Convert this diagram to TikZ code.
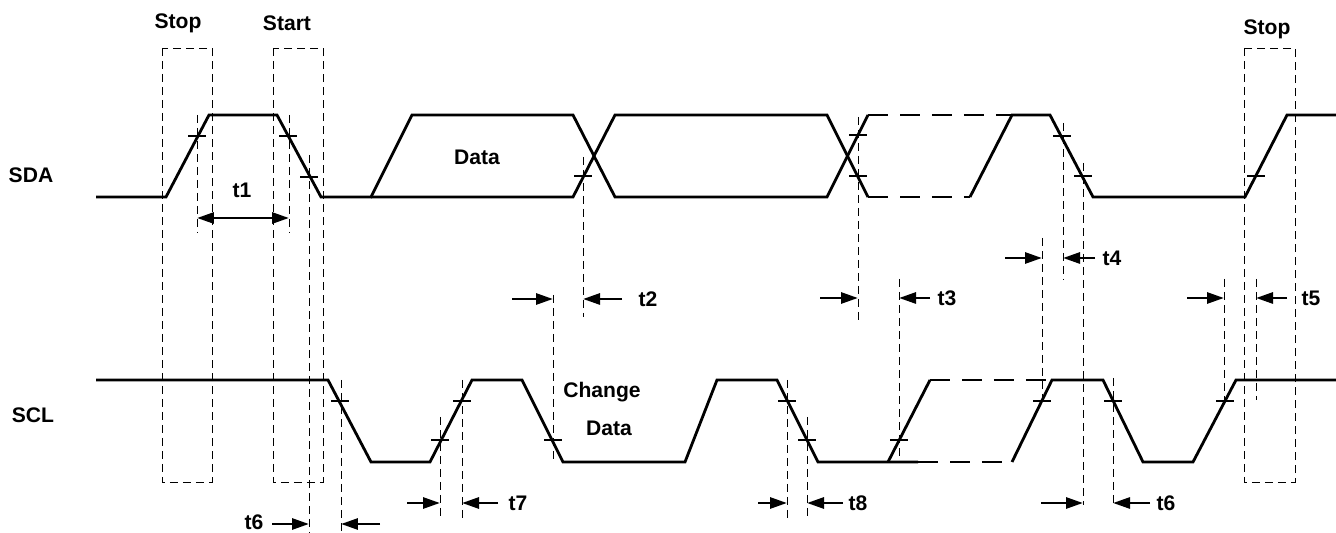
\documentclass[tikz,border=0pt]{standalone}
\usepackage{fontspec}
\setmainfont{Liberation Sans}
\usetikzlibrary{arrows.meta}
\begin{document}
\begin{tikzpicture}[x=0.02cm,y=-0.02cm,
  wave/.style={line width=1.6pt,line join=miter},
  wavedash/.style={wave,dash pattern=on 0.4cm off 0.24cm},
  guide/.style={line width=0.5pt,dash pattern=on 0.16cm off 0.1cm},
  tarrow/.style={line width=1.6pt,-{Triangle[length=0.34cm,width=0.22cm]}},
  lbl/.style={font=\fontsize{12}{14}\selectfont\bfseries,inner sep=0pt}]
\useasboundingbox (0,0) rectangle (1336,533);

\node[lbl] (stopL) at (178,23) {Stop};
\node[lbl] (start) at (287,23) {Start};
\node[lbl] (stopR) at (1267,29) {Stop};
\node[lbl] (sda) at (31,175) {SDA};
\node[lbl] (scl) at (33,415) {SCL};
\node[lbl] (data) at (477,157) {Data};
\node[lbl] (change) at (602,392) {Change};
\node[lbl] (cdata) at (609,428) {Data};

\draw[guide] (162,48) rectangle (212,482);
\draw[guide] (273,48) rectangle (323,482);
\draw[guide] (1244,48) rectangle (1295,482);
\foreach \x/\a/\b in {197/115/233,289/115/233,309/155/533,341/380/533,583/157/317,553/295/460,
  858/117/320,899/279/462,1042/238/401,1063/123/280,1083/163/505,1113/378/505,1224/279/401,
  1256/279/400,440/417/518,462/380/518,787/380/518,807/417/518}
  \draw[guide] (\x,\a) -- (\x,\b);

\draw[wave] (96,197) -- (166,197) -- (209,115) -- (277,115) -- (321,197) -- (371,197) -- (412,115)
  -- (573,115) -- (615,197) -- (827,197) -- (868,115);
\draw[wave] (371,197) -- (573,197) -- (615,115) -- (827,115) -- (868,197);
\draw[wavedash] (868,115) -- (1012,115);
\draw[wavedash] (868,197) -- (970,197);
\draw[wave] (970,197) -- (1012,115) -- (1050,115) -- (1093,197) -- (1245,197) -- (1287,115) -- (1336,115);

\draw[wave] (96,380) -- (328,380) -- (371,462) -- (430,462) -- (472,380) -- (522,380) -- (563,462)
  -- (685,462) -- (717,380) -- (777,380) -- (818,462) -- (918,462);
\draw[wave] (888,462) -- (930,380);
\draw[wavedash] (930,380) -- (1052,380);
\draw[wavedash] (918,462) -- (1012,462);
\draw[wave] (1012,462) -- (1052,380) -- (1103,380) -- (1143,462) -- (1193,462) -- (1236,380) -- (1336,380);

\foreach \x/\y in {197/136,288/136,309/177,583/176,858/135,858/176,1062/136,1083/176,1256/176,
  340/401,440/440,462/401,553/440,787/401,807/440,899/440,1042/401,1113/401,1225/401}
  \draw[wave] (\x-9,\y) -- (\x+9,\y);

\draw[wave,{Triangle[length=0.34cm,width=0.22cm]}-{Triangle[length=0.34cm,width=0.22cm]}] (197,218) -- (289,218);
\node[lbl] (t1) at (242,190) {t1};
\draw[tarrow] (512,299) -- (553,299);
\draw[tarrow] (622,299) -- (583,299);
\node[lbl] (t2) at (648,299) {t2};
\draw[tarrow] (820,298) -- (858,298);
\draw[tarrow] (930,298) -- (899,298);
\node[lbl] (t3) at (947,298) {t3};
\draw[tarrow] (1005,258) -- (1042,258);
\draw[tarrow] (1095,258) -- (1063,258);
\node[lbl] (t4) at (1112,258) {t4};
\draw[tarrow] (1187,298) -- (1224,298);
\draw[tarrow] (1287,298) -- (1256,298);
\node[lbl] (t5) at (1311,298) {t5};
\draw[tarrow] (272,524) -- (309,524);
\draw[tarrow] (380,524) -- (341,524);
\node[lbl] (t6a) at (254,522) {t6};
\draw[tarrow] (407,503) -- (440,503);
\draw[tarrow] (498,503) -- (462,503);
\node[lbl] (t7) at (518,503) {t7};
\draw[tarrow] (758,503) -- (787,503);
\draw[tarrow] (843,503) -- (807,503);
\node[lbl] (t8) at (858,503) {t8};
\draw[tarrow] (1041,503) -- (1083,503);
\draw[tarrow] (1150,503) -- (1113,503);
\node[lbl] (t6b) at (1166,503) {t6};
\end{tikzpicture}
\end{document}
